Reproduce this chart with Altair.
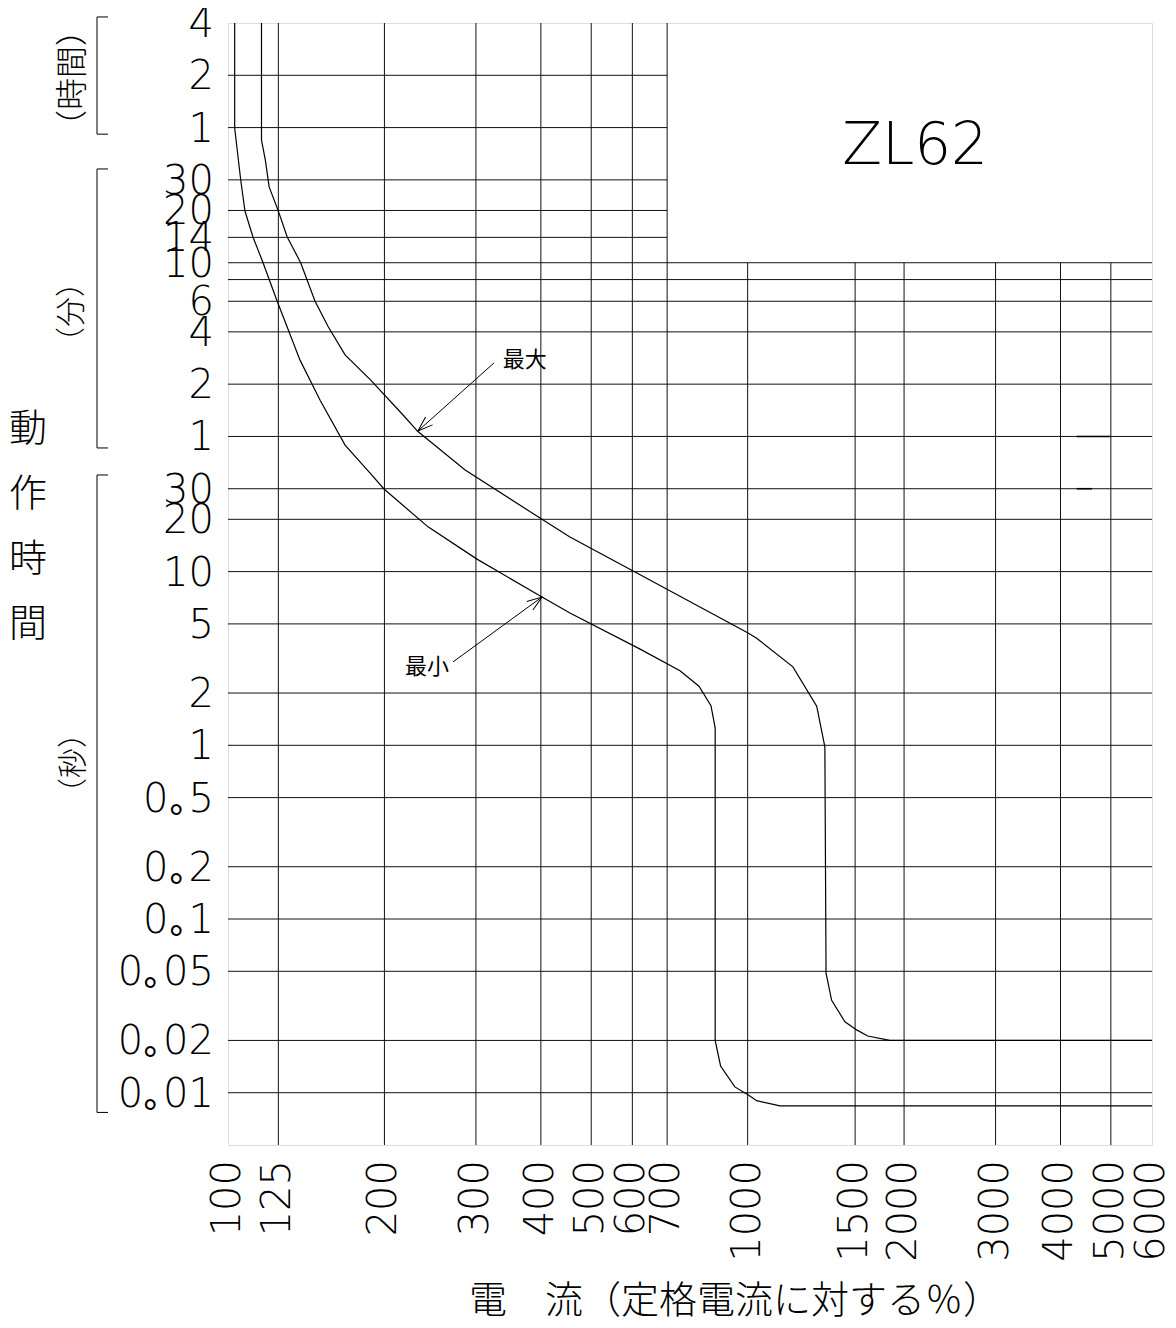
import altair as alt
import pandas as pd

# ---------------- data ----------------
X_DOMAIN = [100, 6000]          # % of rated current
Y_DOMAIN = [0.005, 14400]       # seconds

# maximum operating-time curve (current %, time s)
MAX_CURRENT = [116, 116, 118, 120, 125, 130, 138, 147, 156, 168, 188, 217, 232, 286,
               402, 455, 621, 1000, 1041, 1222, 1358, 1408, 1415, 1415, 1451, 1539,
               1621, 1702, 1878, 6000]
MAX_TIME = [14400, 3050, 2340, 1640, 1190, 844, 600, 361, 256, 177, 127, 80, 64, 38.5,
            20, 15.8, 9.6, 4.45, 4.13, 2.83, 1.68, 0.98, 0.058, 0.049, 0.034, 0.0256,
            0.023, 0.0212, 0.020, 0.020]

# minimum operating-time curve
MIN_CURRENT = [103, 103, 105.8, 107.8, 111.7, 116.8, 124.3, 137.6, 150.4, 168, 187.7,
               199.6, 242.6, 301.4, 402, 455, 621, 741, 806, 850, 866, 866, 887, 945,
               1003, 1041, 1154, 6000]
MIN_TIME = [14400, 3580, 1797, 1191, 844, 600, 361, 165, 97, 53.5, 36.9, 29.9, 18.1,
            11.8, 7.14, 5.78, 3.58, 2.69, 2.19, 1.69, 1.26, 0.020, 0.01425, 0.0108,
            0.0097, 0.0090, 0.0084, 0.0084]

# grid (the line labelled 1500 sits at about 1610 on the printed sheet)
H_LINES_UPPER = [7200, 3600, 1800, 1200, 840]            # drawn up to 700 %
H_LINES_FULL = [600, 480, 360, 240, 120, 60, 30, 20, 10, 5, 2, 1, 0.5, 0.2, 0.1,
                0.05, 0.02, 0.01]
V_LINES_UPPER = [125, 200, 300, 400, 500, 600, 700]      # full height
V_LINES_LOWER = [1000, 1610, 2000, 3000, 4000, 5000]     # up to 10 min

# tick labels
Y_TICKS = [14400, 7200, 3600, 1800, 1200, 840, 600, 360, 240, 120, 60, 30, 20, 10, 5,
           2, 1, 0.5, 0.2, 0.1, 0.05, 0.02, 0.01]
Y_LABELS = ["4", "2", "1", "30", "20", "14", "10", "6", "4", "2", "1", "30", "20",
            "10", "5", "2", "1", "0｡5", "0｡2", "0｡1", "0｡05", "0｡02", "0｡01"]
X_TICKS = [100, 125, 200, 300, 400, 500, 600, 700, 1000, 1610, 2000, 3000, 4000,
           5000, 6000]
X_LABELS = ["100", "125", "200", "300", "400", "500", "600", "700", "1000", "1500",
            "2000", "3000", "4000", "5000", "6000"]

# annotations
ARROW_LABELS = ["最大", "最小"]
ARROW_FROM_CURRENT = [325, 271]
ARROW_FROM_TIME = [159, 3.02]
ARROW_TO_CURRENT = [232, 402]
ARROW_TO_TIME = [64.5, 7.14]
LABEL_CURRENT = [338, 219]
LABEL_TIME = [165, 2.82]

# bracket spans for the hour / minute / second groups (seconds)
BRACKET_TOP = [15600, 2080, 36]
BRACKET_BOTTOM = [3300, 51.5, 0.0077]

# stray short marks on the 1 min / 30 s lines
MARK_TIME = [60, 30]
MARK_FROM = [4300, 4300]
MARK_TO = [5000, 4600]

# ---------------- layout ----------------
W, H = 924, 1122
NUM_FONT = "'DejaVu Sans', Roboto, sans-serif"
NUM_WEIGHT = 200
CJK_FONT = "'Noto Sans CJK JP', sans-serif"
NUM_SIZE = 40

xs = alt.Scale(type="log", domain=X_DOMAIN, nice=False)
ys = alt.Scale(type="log", domain=Y_DOMAIN, nice=False)


def X(f):
    return alt.X(f, type="quantitative", scale=xs, axis=None)


def Y(f):
    return alt.Y(f, type="quantitative", scale=ys, axis=None)


one = pd.DataFrame({"a": [0]})

# grid lines
hgrid_df = pd.DataFrame({
    "t": H_LINES_UPPER + H_LINES_FULL,
    "x0": [X_DOMAIN[0]] * (len(H_LINES_UPPER) + len(H_LINES_FULL)),
    "x1": [700] * len(H_LINES_UPPER) + [X_DOMAIN[1]] * len(H_LINES_FULL),
})
hgrid = alt.Chart(hgrid_df).mark_rule(color="#111", strokeWidth=1).encode(
    x=X("x0"), x2=alt.X2("x1"), y=Y("t"))

vgrid_df = pd.DataFrame({
    "c": V_LINES_UPPER + V_LINES_LOWER,
    "t0": [Y_DOMAIN[0]] * (len(V_LINES_UPPER) + len(V_LINES_LOWER)),
    "t1": [Y_DOMAIN[1]] * len(V_LINES_UPPER) + [600] * len(V_LINES_LOWER),
})
vgrid = alt.Chart(vgrid_df).mark_rule(color="#111", strokeWidth=1).encode(
    x=X("c"), y=Y("t0"), y2=alt.Y2("t1"))

marks_df = pd.DataFrame({"t": MARK_TIME, "x0": MARK_FROM, "x1": MARK_TO})
marks = alt.Chart(marks_df).mark_rule(color="#000", strokeWidth=1.6).encode(
    x=X("x0"), x2=alt.X2("x1"), y=Y("t"))

# curves
rows = []
for name, cs, ts in [("max", MAX_CURRENT, MAX_TIME), ("min", MIN_CURRENT, MIN_TIME)]:
    for i, (c, t) in enumerate(zip(cs, ts)):
        rows.append({"curve": name, "i": i, "c": c, "t": t})
curve_df = pd.DataFrame(rows)
curves = alt.Chart(curve_df).mark_line(color="#000", strokeWidth=1.2).encode(
    x=X("c"), y=Y("t"), detail="curve:N", order="i:Q")

# arrows
arrow_df = pd.DataFrame({
    "label": ARROW_LABELS,
    "x0": ARROW_FROM_CURRENT, "y0": ARROW_FROM_TIME,
    "x1": ARROW_TO_CURRENT, "y1": ARROW_TO_TIME,
    "lx": LABEL_CURRENT, "ly": LABEL_TIME,
    "ang": [228, 54],
})
arrow_lines = alt.Chart(arrow_df).mark_rule(color="#000", strokeWidth=1).encode(
    x=X("x0"), y=Y("y0"), x2=alt.X2("x1"), y2=alt.Y2("y1"))
arrow_heads = alt.Chart(arrow_df).mark_point(
    shape="M-0.35,1L0,0L0.35,1", filled=False, color="#000", strokeWidth=1,
    size=900, opacity=1).encode(
    x=X("x1"), y=Y("y1"), angle=alt.Angle("ang:Q", scale=None))
arrow_text = alt.Chart(arrow_df).mark_text(
    font=CJK_FONT, fontSize=22, align="left", baseline="middle", color="#000").encode(
    x=X("lx"), y=Y("ly"), text="label:N")

# model name
zl = alt.Chart(pd.DataFrame({"c": [2100], "t": [2780], "s": ["ZL62"]})).mark_text(
    font=NUM_FONT, fontSize=58, fontWeight=NUM_WEIGHT, align="center",
    baseline="middle", color="#000").encode(x=X("c"), y=Y("t"), text="s:N")

# tick labels
ylab_df = pd.DataFrame({"t": Y_TICKS, "s": Y_LABELS})
ylabels = alt.Chart(ylab_df).mark_text(
    font=NUM_FONT, fontSize=NUM_SIZE, fontWeight=NUM_WEIGHT, align="right",
    baseline="middle", dy=2, color="#000").encode(
    x=alt.value(-14), y=Y("t"), text="s:N")

xlab_df = pd.DataFrame({"c": X_TICKS, "s": X_LABELS})
xlabels = alt.Chart(xlab_df).mark_text(
    font=NUM_FONT, fontSize=NUM_SIZE, fontWeight=NUM_WEIGHT, angle=270, align="right",
    baseline="middle", color="#000").encode(x=X("c"), y=alt.value(H + 15), text="s:N")

# brackets
br_df = pd.DataFrame({"t0": BRACKET_BOTTOM, "t1": BRACKET_TOP})
br_v = alt.Chart(br_df).mark_rule(color="#000", strokeWidth=1).encode(
    x=alt.value(-131), y=Y("t0"), y2=alt.Y2("t1"))
br_t = pd.DataFrame({"t": BRACKET_BOTTOM + BRACKET_TOP})
br_ticks = alt.Chart(br_t).mark_rule(color="#000", strokeWidth=1).encode(
    x=alt.value(-131), x2=alt.value(-120), y=Y("t"))


# axis titles
def txt(s, x, y, size, angle=0):
    kw = dict(font=CJK_FONT, fontSize=size, fontWeight=300, align="center",
              baseline="middle", color="#000", text=s)
    if angle:
        kw["angle"] = angle
    return alt.Chart(one).mark_text(**kw).encode(x=alt.value(x), y=alt.value(y))


t_hours = txt("（時間）", -155, 55, 32, 270)
t_min = txt("（分）", -156, 289, 30, 270)
t_sec = txt("（秒）", -154, 740, 30, 270)
vert_chars = ["動", "作", "時", "間"]
v_titles = [txt(ch, -200, 407 + 65 * i, 38) for i, ch in enumerate(vert_chars)]
x_title = txt("電　流（定格電流に対する％）", 507, 1279, 38)

chart = alt.layer(
    hgrid, vgrid, marks, curves, arrow_lines, arrow_heads, arrow_text, zl,
    ylabels, xlabels, br_v, br_ticks, t_hours, t_min, t_sec, *v_titles, x_title
).properties(
    width=W, height=H,
    autosize=alt.AutoSizeParams(type="none"),
    padding={"left": 220, "top": 15, "right": 16, "bottom": 182},
).configure_view(stroke="#000", strokeWidth=1.2).configure(background="white")

chart.save("out.html", embed_options={"renderer": "svg", "actions": False})
